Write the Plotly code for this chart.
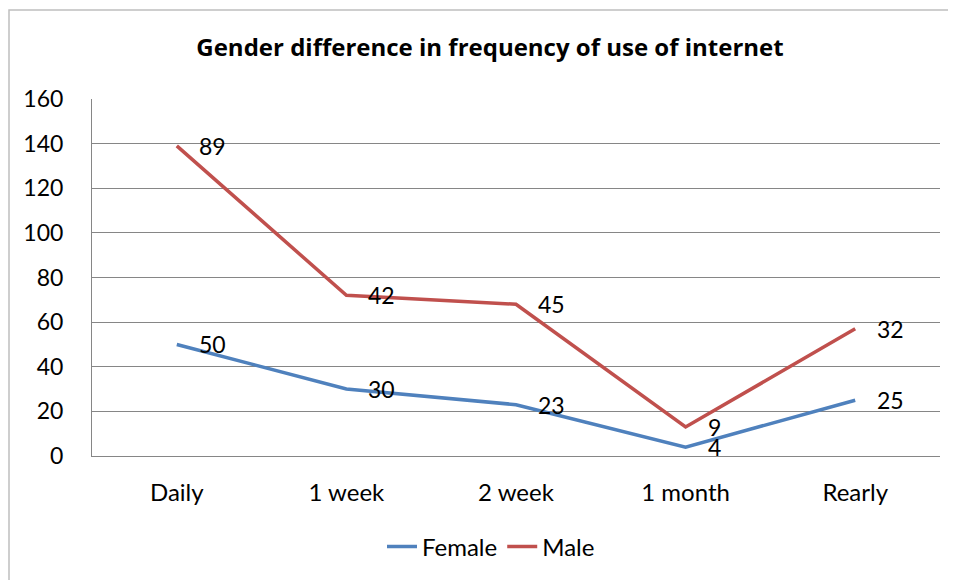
import plotly.graph_objects as go

categories = ["Daily", "1 week", "2 week", "1 month", "Rearly"]
female = [50, 30, 23, 4, 25]
male = [89, 42, 45, 9, 32]
y_ticks = [0, 20, 40, 60, 80, 100, 120, 140, 160]

male_stacked = [f + m for f, m in zip(female, male)]

FONT = "Lato"
W, H = 956, 580
L, R, T, B = 84, 24, 91, 132
pw = W - L - R
ph = H - T - B

fig = go.Figure()
fig.add_trace(go.Scatter(x=categories, y=female, mode="lines", name="Female",
                         line=dict(color="#4F81BD", width=3.5)))
fig.add_trace(go.Scatter(x=categories, y=male_stacked, mode="lines", name="Male",
                         line=dict(color="#C0504D", width=3.5)))

annotations = []
for c, ys, v in list(zip(categories, female, female)) + list(zip(categories, male_stacked, male)):
    annotations.append(dict(x=c, y=ys, text=str(v), showarrow=False, xanchor="left",
                            yanchor="middle", xshift=20,
                            font=dict(family=FONT, size=23, color="#000000")))

fig.update_layout(
    width=W, height=H,
    margin=dict(l=L, r=R, t=T, b=B),
    paper_bgcolor="white", plot_bgcolor="white",
    title=dict(text="<b>Gender difference in frequency of use of internet</b>",
               x=482 / W, xanchor="center", y=1 - 40 / H, yanchor="middle",
               font=dict(family="Open Sans", size=24, color="#000000")),
    showlegend=True,
    legend=dict(orientation="h", x=(483 - L) / pw, xanchor="center",
                y=(T + ph - 539) / ph, yanchor="middle",
                font=dict(family=FONT, size=24, color="#000000"),
                itemwidth=30, tracegroupgap=0),
    xaxis=dict(type="category", range=[-0.5, 4.5], showgrid=False,
               showline=True, linecolor="#868686", linewidth=1,
               ticks="", ticklabelstandoff=15,
               tickfont=dict(family=FONT, size=24, color="#000000"), fixedrange=True),
    yaxis=dict(range=[0, 160], tickvals=y_ticks, showgrid=True, gridcolor="#868686",
               gridwidth=1, showline=True, linecolor="#868686", linewidth=1,
               zeroline=False, ticks="", ticklabelstandoff=23,
               tickfont=dict(family=FONT, size=23, color="#000000"), fixedrange=True),
    annotations=annotations,
    shapes=[dict(type="rect", xref="paper", yref="paper",
                 x0=(1 - L) / pw, x1=(W + 20 - L) / pw,
                 y0=(T + ph - (H + 20)) / ph, y1=(T + ph - 2) / ph,
                 line=dict(color="#BFBFBF", width=1.5), fillcolor="rgba(0,0,0,0)", layer="below")],
)

fig.write_html("out.html")
